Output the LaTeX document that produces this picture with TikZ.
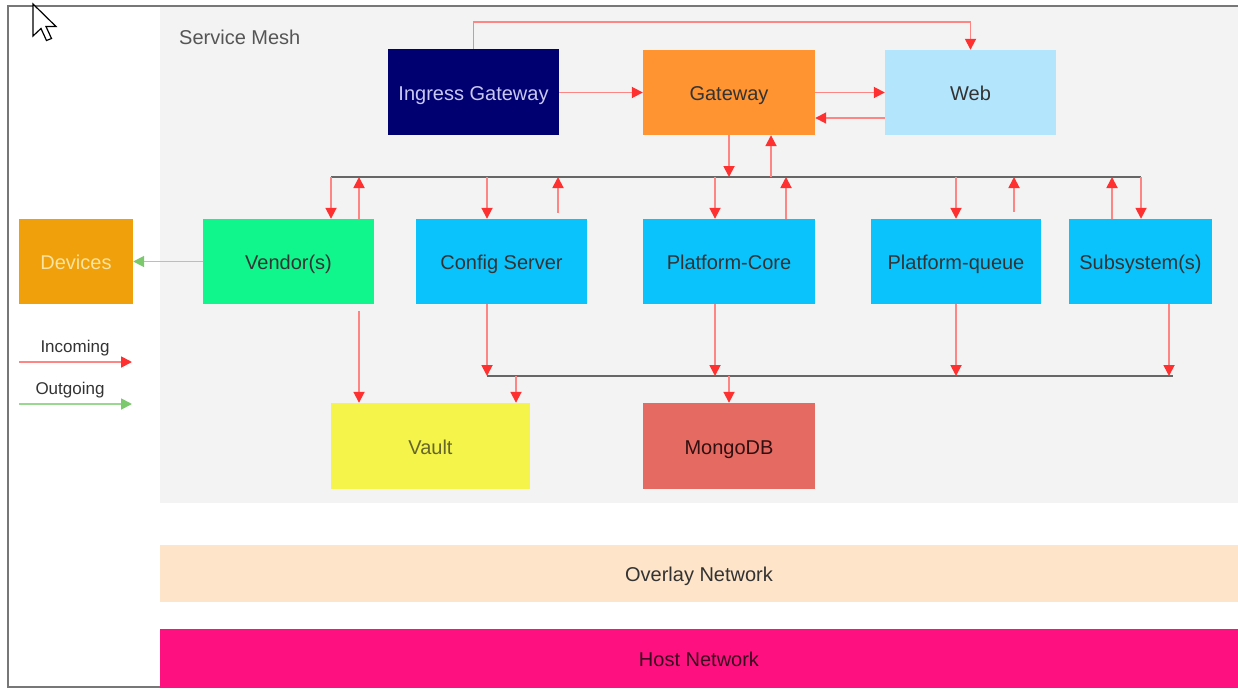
\documentclass[tikz,border=0pt]{standalone}
\usepackage{fontspec}
\setmainfont{Liberation Sans}
\usetikzlibrary{arrows.meta}
\definecolor{meshgray}{HTML}{F3F3F3}
\definecolor{navybox}{HTML}{000070}
\definecolor{ingtext}{HTML}{C8C8F0}
\definecolor{gworange}{HTML}{FF9430}
\definecolor{webblue}{HTML}{B3E5FC}
\definecolor{vendgreen}{HTML}{10F58C}
\definecolor{svccyan}{HTML}{0AC3FD}
\definecolor{devorange}{HTML}{F0A00A}
\definecolor{devtext}{HTML}{FBE3A0}
\definecolor{vaultyellow}{HTML}{F4F44A}
\definecolor{vaulttext}{HTML}{66662A}
\definecolor{mongored}{HTML}{E56A62}
\definecolor{mongotext}{HTML}{301010}
\definecolor{overlaypeach}{HTML}{FEE4C8}
\definecolor{hostpink}{HTML}{FF1080}
\definecolor{hosttext}{HTML}{3A0A20}
\definecolor{labeltext}{HTML}{333333}
\definecolor{meshtext}{HTML}{555555}
\definecolor{redline}{HTML}{FF8484}
\definecolor{redhead}{HTML}{FF3030}
\definecolor{greenline}{HTML}{98D890}
\definecolor{greenhead}{HTML}{7CC86C}
\definecolor{busgray}{HTML}{666666}
\definecolor{framegray}{HTML}{777777}
\begin{document}
\begin{tikzpicture}[x=1pt,y=-1pt,
  box/.style={rectangle,inner sep=0pt,draw=none,text=labeltext,font=\fontsize{20}{24}\selectfont,text height=16pt,text depth=0pt},
  inc/.style={draw=redline,line width=1.8pt,-{Triangle[length=11pt,width=11pt,color=redhead]}},
  outg/.style={draw=greenline,line width=1.8pt,-{Triangle[length=11pt,width=11pt,color=greenhead]}},
  bus/.style={draw=busgray,line width=2.4pt},
  lbl/.style={inner sep=0pt,font=\fontsize{17}{20}\selectfont,text=labeltext}]
\useasboundingbox (0,0) rectangle (1238,688);
\fill[white] (0,0) rectangle (1238,688);
% service mesh area
\fill[meshgray] (160,6) rectangle (1238,503);
% frame
\draw[framegray,line width=1.5pt] (1238,6) -- (8,6) -- (8,687) -- (1238,687);
\node[anchor=west,inner sep=0pt,text=meshtext,font=\fontsize{20}{24}\selectfont] (meshlbl) at (179,37) {Service Mesh};
% boxes
\node[box,fill=navybox,text=ingtext,minimum width=171pt,minimum height=86pt] (ig) at (473.5,92) {Ingress Gateway};
\node[box,fill=gworange,minimum width=172pt,minimum height=85pt] (gw) at (729,92.5) {Gateway};
\node[box,fill=webblue,minimum width=171pt,minimum height=85pt] (web) at (970.5,92.5) {Web};
\node[box,fill=vendgreen,minimum width=171pt,minimum height=85pt] (vendor) at (288.5,261.5) {Vendor(s)};
\node[box,fill=svccyan,minimum width=171pt,minimum height=85pt] (config) at (501.5,261.5) {Config Server};
\node[box,fill=svccyan,minimum width=172pt,minimum height=85pt] (core) at (729,261.5) {Platform-Core};
\node[box,fill=svccyan,minimum width=170pt,minimum height=85pt] (queue) at (956,261.5) {Platform-queue};
\node[box,fill=svccyan,minimum width=143pt,minimum height=85pt] (sub) at (1140.5,261.5) {Subsystem(s)};
\node[box,fill=devorange,text=devtext,minimum width=114pt,minimum height=85pt] (devices) at (76,261.5) {Devices};
\node[box,fill=vaultyellow,text=vaulttext,minimum width=199pt,minimum height=86pt] (vault) at (430.5,446) {Vault};
\node[box,fill=mongored,text=mongotext,minimum width=172pt,minimum height=86pt] (mongo) at (729,446) {MongoDB};
\node[box,fill=overlaypeach,minimum width=1078pt,minimum height=57pt] (overlay) at (699,573.5) {Overlay Network};
\node[box,fill=hostpink,text=hosttext,minimum width=1078pt,minimum height=59pt] (host) at (699,658.5) {Host Network};
% buses
\coordinate (b1l) at (331,177);
\coordinate (b1r) at (1141,177);
\coordinate (b2l) at (487,376);
\coordinate (b2r) at (1173,376);
\draw[bus] (b1l) -- (b1r);
\draw[bus] (b2l) -- (b2r);
% top connectors
\draw[inc] (ig.north) -- ++(0,-27) -| (web.north);
\draw[inc] (ig.east |- gw.west) -- (gw.west);
\draw[inc] (gw.east) -- (web.west);
\draw[inc] ([yshift=-25.5pt]web.west) -- ([yshift=-25.5pt]gw.east);
\draw[inc] (gw.south) -- (gw.south |- b1l);
\draw[inc] ([xshift=42pt]gw.south |- b1l) -- ([xshift=42pt]gw.south);
% bus 1 to services
\draw[inc] (b1l) -- (b1l |- vendor.north);
\draw[inc] ([xshift=70.5pt]vendor.north) -- ([xshift=70.5pt]vendor.north |- b1l);
\draw[inc] ([xshift=-14.5pt]config.north |- b1l) -- ([xshift=-14.5pt]config.north);
\draw[inc] ([xshift=56.5pt,yshift=6pt]config.north) -- ([xshift=56.5pt]config.north |- b1l);
\draw[inc] ([xshift=-14pt]core.north |- b1l) -- ([xshift=-14pt]core.north);
\draw[inc] ([xshift=57pt]core.north) -- ([xshift=57pt]core.north |- b1l);
\draw[inc] (queue.north |- b1l) -- (queue.north);
\draw[inc] ([xshift=58pt,yshift=7pt]queue.north) -- ([xshift=58pt]queue.north |- b1l);
\draw[inc] ([xshift=-28.5pt]sub.north) -- ([xshift=-28.5pt]sub.north |- b1l);
\draw[inc] (b1r) -- (b1r |- sub.north);
% services to bus 2
\draw[inc] ([xshift=-14.5pt]config.south) -- (b2l);
\draw[inc] ([xshift=-14pt]core.south) -- ([xshift=-14pt]core.south |- b2l);
\draw[inc] (queue.south) -- (queue.south |- b2l);
\draw[inc] ([xshift=28.5pt]sub.south) -- ([xshift=28.5pt]sub.south |- b2l);
% bus 2 to stores
\draw[inc] ([xshift=85.5pt]vault.north |- b2l) -- ([xshift=85.5pt]vault.north);
\draw[inc] (mongo.north |- b2l) -- (mongo.north);
\draw[inc] ([xshift=70.5pt,yshift=-7pt]vendor.south) -- ([xshift=70.5pt]vendor.south |- vault.north);
% vendor to devices
\draw[outg] (vendor.west) -- (devices.east);
% legend
\node[lbl] (incl) at (75,348) {Incoming};
\coordinate (inca) at (19,362);
\coordinate (incb) at (132,362);
\draw[inc] (inca) -- (incb);
\node[lbl] (outl) at (70,390) {Outgoing};
\coordinate (outa) at (19,404);
\coordinate (outb) at (132,404);
\draw[outg] (outa) -- (outb);
% mouse cursor
\draw[black,fill=white,line width=1.2pt,line join=miter]
  (33,4) -- (33,36) -- (41,28.5) -- (46.5,40.5) -- (51.5,38.5) -- (46,26.5) -- (56,26.5) -- cycle;
\end{tikzpicture}
\end{document}
